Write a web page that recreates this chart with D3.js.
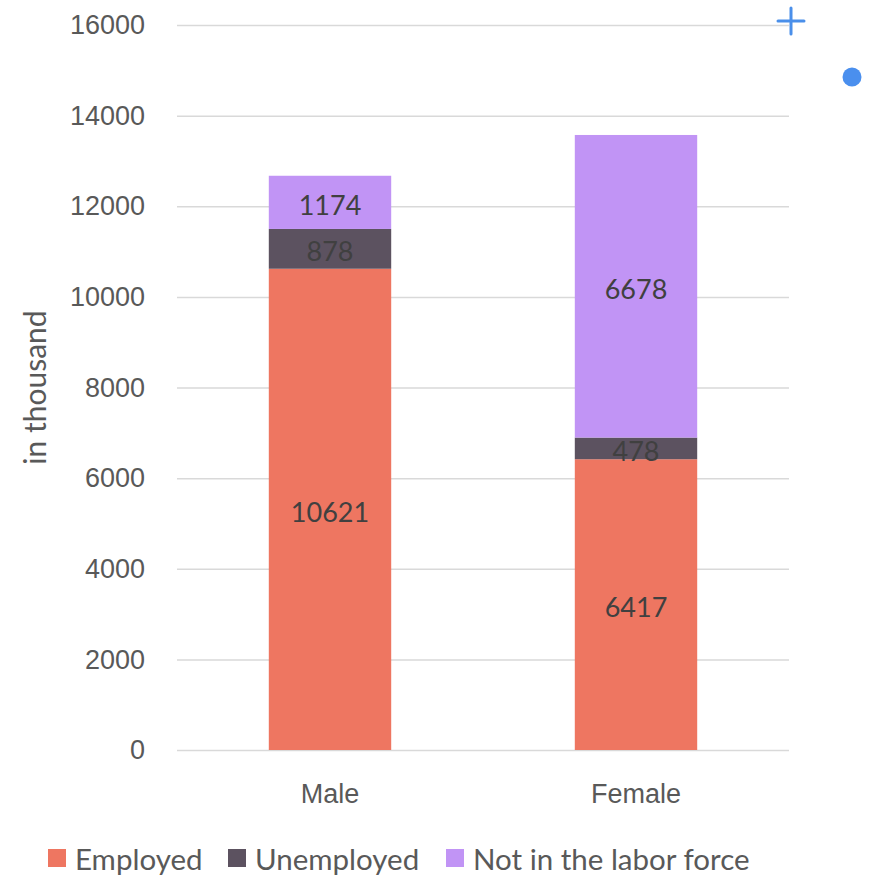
<!DOCTYPE html>
<html>
<head>
<meta charset="utf-8">
<script src="https://cdn.jsdelivr.net/npm/d3@7"></script>
<style>
  html, body { margin: 0; padding: 0; background: #fff; }
  svg { display: block; font-family: Lato, "Open Sans", sans-serif; }
</style>
</head>
<body>
<div id="chart"></div>
<script>
(function () {
  'use strict';

  /* ── Data ── */
  var categories = ['Male', 'Female'];
  var seriesNames = ['Employed', 'Unemployed', 'Not in the labor force'];
  var employed = [10621, 6417];
  var unemployed = [878, 478];
  var notInLabor = [1174, 6678];
  var yTicks = [0, 2000, 4000, 6000, 8000, 10000, 12000, 14000, 16000];
  var colors = ['#ee7661', '#5c5260', '#c194f5'];

  var W = 869, H = 877;
  var x0 = 177, x1 = 789, yTop = 25, yBottom = 750;

  var svg = d3.select('#chart').append('svg')
    .attr('width', W).attr('height', H);

  var rows = categories.map(function (c, i) {
    return { cat: c, Employed: employed[i], Unemployed: unemployed[i], 'Not in the labor force': notInLabor[i] };
  });
  var stacked = d3.stack().keys(seriesNames)(rows);

  var x = d3.scaleBand().domain(categories).range([x0, x1]).paddingInner(0.6).paddingOuter(0.3);
  var y = d3.scaleLinear().domain([0, 16000]).range([yBottom, yTop]);

  /* Gridlines + tick labels */
  var yAxis = svg.append('g')
    .attr('transform', 'translate(' + x0 + ',0)')
    .call(d3.axisLeft(y).tickValues(yTicks).tickSize(-(x1 - x0)).tickPadding(32).tickFormat(d3.format('d')));
  yAxis.select('.domain').remove();
  yAxis.selectAll('line').attr('stroke', '#d9d9d9').attr('stroke-width', 1.5);
  yAxis.selectAll('text').attr('fill', '#595959').attr('font-size', 27);

  /* Bars */
  var layer = svg.append('g').selectAll('g')
    .data(stacked).join('g')
    .attr('fill', function (d, i) { return colors[i]; });

  layer.selectAll('rect')
    .data(function (d) { return d; })
    .join('rect')
    .attr('x', function (d) { return x(d.data.cat); })
    .attr('width', x.bandwidth())
    .attr('y', function (d) { return y(d[1]); })
    .attr('height', function (d) { return y(d[0]) - y(d[1]); });

  /* Value labels */
  layer.selectAll('text')
    .data(function (d) { return d; })
    .join('text')
    .attr('x', function (d) { return x(d.data.cat) + x.bandwidth() / 2; })
    .attr('y', function (d) { return (y(d[0]) + y(d[1])) / 2 + 2; })
    .attr('text-anchor', 'middle')
    .attr('dominant-baseline', 'central')
    .attr('font-size', 27)
    .attr('fill', '#404040')
    .text(function (d) { return d[1] - d[0]; });

  /* Category axis */
  var xAxis = svg.append('g')
    .attr('transform', 'translate(0,' + yBottom + ')')
    .call(d3.axisBottom(x).tickSize(0).tickPadding(34));
  xAxis.select('.domain').remove();
  xAxis.selectAll('text').attr('fill', '#595959').attr('font-size', 27);

  /* Axis title */
  svg.append('text')
    .attr('transform', 'translate(46,' + ((yTop + yBottom) / 2) + ') rotate(-90)')
    .attr('text-anchor', 'middle')
    .attr('font-size', 30)
    .attr('fill', '#595959')
    .text('in thousand');

  /* Legend */
  var legendX = [48, 228, 446];
  var leg = svg.append('g').selectAll('g')
    .data(seriesNames).join('g')
    .attr('transform', function (d, i) { return 'translate(' + legendX[i] + ',849)'; });
  leg.append('rect').attr('width', 18).attr('height', 18)
    .attr('fill', function (d, i) { return colors[i]; });
  leg.append('text')
    .attr('x', 27).attr('y', 9)
    .attr('dominant-baseline', 'central')
    .attr('font-size', 29.5)
    .attr('fill', '#595959')
    .text(function (d) { return d; });

  /* Editor marks (top right) */
  var plus = svg.append('g').attr('stroke', '#4a8fea').attr('stroke-width', 3).attr('stroke-linecap', 'round');
  plus.append('line').attr('x1', 778).attr('x2', 804).attr('y1', 21).attr('y2', 21);
  plus.append('line').attr('x1', 791).attr('x2', 791).attr('y1', 8).attr('y2', 34);
  svg.append('circle').attr('cx', 852).attr('cy', 77).attr('r', 9.5).attr('fill', '#4a8fee');
})();
</script>
</body>
</html>
